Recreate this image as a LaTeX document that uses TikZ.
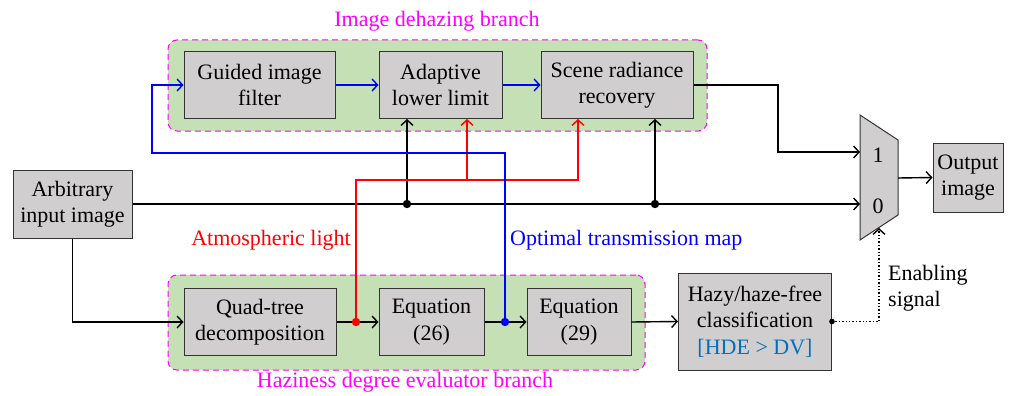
\documentclass[tikz,border=0pt]{standalone}
\usepackage{fontspec}
\setmainfont{Liberation Serif}
\usetikzlibrary{arrows.meta}
\definecolor{boxgray}{RGB}{208,206,206}
\definecolor{grpgreen}{RGB}{197,224,180}
\definecolor{mag}{RGB}{255,0,255}
\definecolor{hdeblue}{RGB}{0,112,192}
\begin{document}
\begin{tikzpicture}[x=1pt,y=-1pt,
  txt/.style={font=\fontsize{22}{26.5}\selectfont, inner sep=0pt},
  blk/.style={txt, draw=black!80, line width=1pt, fill=boxgray, align=center},
  grp/.style={draw=mag, dash pattern=on 6pt off 4pt, line width=1pt, fill=grpgreen, rounded corners=9pt, inner sep=0pt},
  arr/.style={-{Straight Barb[length=5.5pt,width=12pt,line width=1.4pt]}, line width=1.4pt},
  dotr/.style={radius=4.2pt}
]
\useasboundingbox (0,0) rectangle (1020,396);
% groups
\node[grp, minimum width=539pt, minimum height=91pt] (g1) at (437.5,85.5) {};
\node[grp, minimum width=477pt, minimum height=95pt] (g2) at (406.5,322.5) {};
\node[txt, text=mag] (t1) at (437,21) {Image dehazing branch};
\node[txt, text=mag] (t2) at (405,382) {Haziness degree evaluator branch};
% blocks
\node[blk, minimum width=151pt, minimum height=67pt] (guided) at (259.5,85) {Guided image\\filter};
\node[blk, minimum width=123pt, minimum height=67pt] (adaptive) at (440.5,85) {Adaptive\\lower limit};
\node[blk, minimum width=152pt, minimum height=67pt] (scene) at (617,85) {Scene radiance\\recovery};
\node[blk, minimum width=119pt, minimum height=68pt] (input) at (72.5,204) {Arbitrary\\input image};
\node[blk, minimum width=70pt, minimum height=69pt] (output) at (968,177.5) {Output\\image};
\node[blk, minimum width=152pt, minimum height=67pt] (quad) at (260,322) {Quad-tree\\decomposition};
\node[blk, minimum width=105pt, minimum height=67pt] (eqa) at (431.5,322) {Equation\\(26)};
\node[blk, minimum width=104pt, minimum height=67pt] (eqb) at (579,322) {Equation\\(29)};
\node[blk, minimum width=153pt, minimum height=97pt] (hazy) at (755,321.5) {Hazy/haze-free\\classification\\\textcolor{hdeblue}{[HDE > DV]}};
% mux
\draw[fill=boxgray, draw=black!80, line width=1pt] (860,115) -- (898,140) -- (898,215) -- (860,240) -- cycle;
\node[txt] (m1) at (878,155) {1};
\node[txt] (m0) at (878,206) {0};
\coordinate (mux1) at (860,152);
\coordinate (mux0) at (860,204);
\coordinate (muxout) at (898,178);
\coordinate (muxen) at (879,228);
% labels
\node[txt, text=red, anchor=east] (al) at (351,240) {Atmospheric light};
\node[txt, text=blue, anchor=west] (otm) at (510,240) {Optimal transmission map};
\node[txt, anchor=west, align=left] (en) at (888,288) {Enabling\\signal};
% junctions
\coordinate (j1) at (407,204);
\coordinate (j2) at (655,204);
\coordinate (rd) at (356,322);
\coordinate (bd) at (505,322);
\coordinate (rbus) at (467,180);
\coordinate (bbus) at (152,153);
\coordinate (turn) at (778,152);
% main line
\draw[arr] (input.east) -- (mux0);
\draw[arr] (j1) -- (j1 |- adaptive.south);
\draw[arr] (j2) -- (j2 |- scene.south);
\fill (j1) circle[dotr];
\fill (j2) circle[dotr];
% lower chain
\draw[arr] (input.south) |- (quad.west);
\draw[arr] (quad.east) -- (eqa.west);
\draw[arr] (eqa.east) -- (eqb.west);
\draw[arr] (eqb.east) -- (hazy.west);
% red
\draw[arr, red] (rd) -- ++(0,-142) -| ([xshift=-39pt]scene.south);
\draw[arr, red] (rbus) -- (rbus |- adaptive.south);
\fill[red] (rd) circle[dotr];
% blue
\draw[arr, blue] (bd) |- (bbus) |- (guided.west);
\draw[arr, blue] (guided.east) -- (adaptive.west);
\draw[arr, blue] (adaptive.east) -- (scene.west);
\fill[blue] (bd) circle[dotr];
% to mux
\draw[arr] (scene.east) -| (turn) -- (mux1);
\draw[arr] (muxout) -- (output.west);
\draw[arr, dotted] (hazy.east) -| (muxen);
\fill (hazy.east) circle[radius=2.8pt];
\end{tikzpicture}
\end{document}
